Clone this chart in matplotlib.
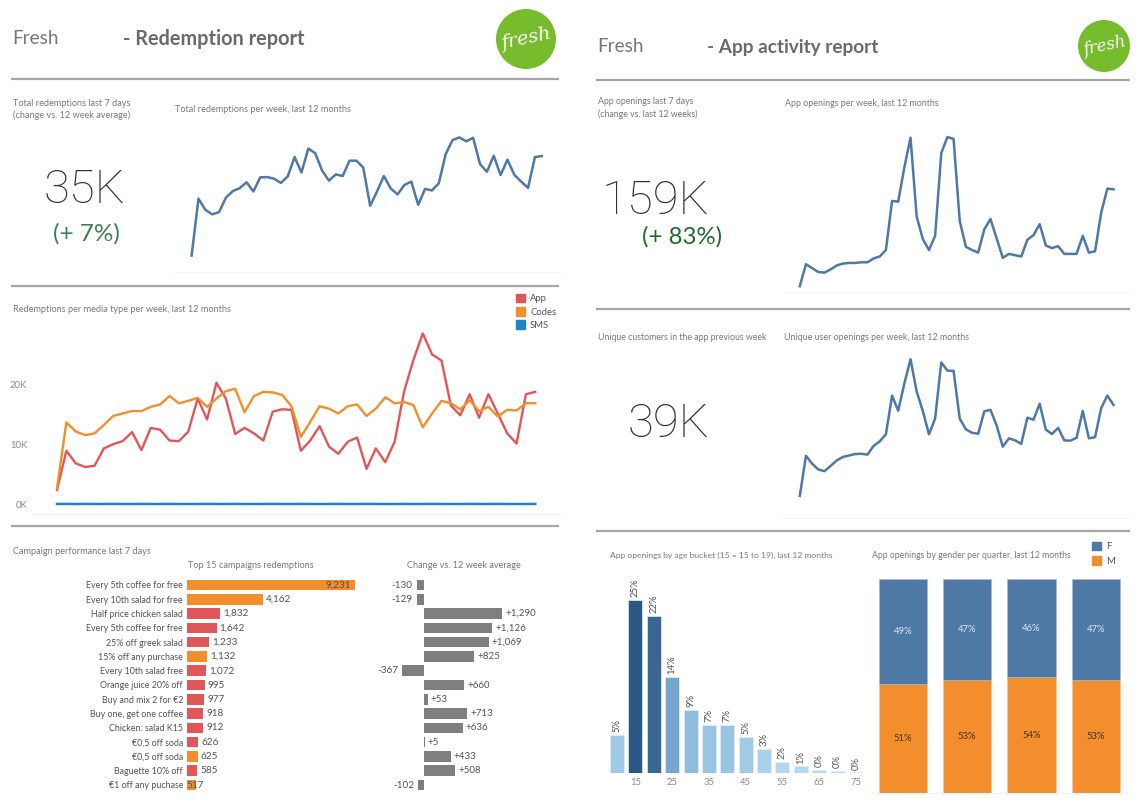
import matplotlib
matplotlib.use('Agg')
import matplotlib.pyplot as plt
from matplotlib.colors import LinearSegmentedColormap, Normalize
from matplotlib.patches import Circle, Patch

plt.rcParams['font.family'] = ['Lato', 'DejaVu Sans']

W, H = 1148, 808

# weekly series, thousands
weeks = list(range(52))
total_redemptions = [5.1, 22.5, 19.1, 17.7, 18.4, 22.8, 24.8, 25.7, 27.5, 24.7, 29.0, 29.1, 28.6,
                     27.3, 29.3, 35.2, 30.5, 37.8, 36.4, 31.1, 28.0, 29.9, 29.4, 34.1, 34.1, 32.0,
                     20.3, 24.7, 29.4, 25.6, 23.8, 26.7, 27.7, 20.6, 25.5, 25.0, 27.2, 36.1, 40.4,
                     41.2, 40.0, 41.1, 33.1, 30.7, 35.6, 29.7, 34.4, 29.8, 27.7, 25.8, 35.2, 35.5]
app = [2.4, 8.9, 6.8, 6.2, 6.4, 9.3, 10.0, 10.5, 12.0, 9.0, 12.7, 12.4, 10.6, 10.5, 12.1, 17.6,
       14.1, 20.2, 17.6, 11.7, 12.7, 11.8, 10.6, 15.4, 15.8, 15.7, 8.9, 10.6, 13.0, 9.6, 8.4,
       10.4, 11.1, 5.9, 9.3, 7.0, 10.4, 18.7, 24.0, 28.4, 24.9, 23.9, 16.4, 14.8, 18.3, 14.4,
       18.3, 15.1, 11.8, 10.1, 18.3, 18.7]
codes = [2.7, 13.6, 12.1, 11.5, 11.8, 13.2, 14.7, 15.1, 15.5, 15.5, 16.2, 16.6, 18.0, 16.8, 17.2,
         17.7, 16.2, 17.6, 18.8, 19.2, 15.3, 18.0, 18.7, 18.6, 18.2, 16.3, 11.2, 13.7, 16.3, 15.9,
         15.1, 16.3, 16.6, 14.7, 15.9, 17.8, 16.8, 17.0, 16.5, 12.8, 15.1, 17.2, 16.8, 15.8, 17.3,
         15.5, 16.2, 14.6, 15.7, 15.6, 16.8, 16.8]
sms = [0.05, 0.06, 0.05, 0.06, 0.05, 0.05, 0.06, 0.05, 0.05, 0.06, 0.05, 0.05, 0.06, 0.05, 0.05,
       0.05, 0.06, 0.05, 0.05, 0.06, 0.05, 0.05, 0.05, 0.06, 0.05, 0.05, 0.06, 0.05, 0.05, 0.05,
       0.06, 0.05, 0.05, 0.06, 0.05, 0.05, 0.05, 0.06, 0.05, 0.05, 0.06, 0.05, 0.05, 0.05, 0.06,
       0.05, 0.05, 0.06, 0.05, 0.05, 0.05, 0.06]
app_openings = [9, 43, 37, 31, 30, 35, 41, 44, 45, 45, 46, 46, 52, 55, 65, 141, 140, 193, 239, 117,
                82, 65, 87, 215, 240, 237, 110, 70, 65, 61, 97, 113, 83, 53, 59, 57, 55, 81, 88,
                105, 72, 68, 71, 59, 59, 59, 87, 61, 63, 123, 160, 159]
unique_openings = [7.7, 21.5, 18.8, 16.8, 16.2, 18.0, 19.9, 21.1, 21.6, 22.1, 22.2, 21.9, 24.9,
                   26.5, 28.9, 42.2, 37.0, 46.4, 54.7, 43.6, 36.9, 28.9, 34.3, 53.6, 50.8, 50.7,
                   34.3, 30.6, 29.4, 29.1, 36.8, 37.3, 31.9, 24.6, 27.5, 26.8, 25.6, 34.6, 33.9,
                   39.4, 30.5, 29.0, 31.1, 26.8, 26.7, 27.7, 36.9, 27.5, 27.9, 37.9, 42.2, 39.0]

# campaigns
campaigns = ['Every 5th coffee for free', 'Every 10th salad for free', 'Half price chicken salad',
             'Every 5th coffee for free', '25% off greek salad', '15% off any purchase',
             'Every 10th salad free', 'Orange juice 20% off', 'Buy and mix 2 for €2',
             'Buy one, get one coffee', 'Chicken: salad K15', '€0,5 off soda', '€0,5 off soda',
             'Baguette 10% off', '€1 off any puchase']
redemptions = [9231, 4162, 1832, 1642, 1233, 1132, 1072, 995, 977, 918, 912, 626, 625, 585, 517]
campaign_media = ['Codes', 'Codes', 'App', 'App', 'App', 'Codes', 'App', 'App', 'App', 'App',
                  'App', 'App', 'Codes', 'App', 'Codes']
change = [-130, -129, 1290, 1126, 1069, 825, -367, 660, 53, 713, 636, 5, 433, 508, -102]

# age buckets
age_buckets = [10, 15, 20, 25, 30, 35, 40, 45, 50, 55, 60, 65, 70, 75]
age_share = [5.5, 25, 22.7, 13.9, 9.1, 6.9, 6.9, 5.2, 3.4, 1.6, 0.9, 0.4, 0.25, 0.05]
age_labels = ['5%', '25%', '22%', '14%', '9%', '7%', '7%', '5%', '3%', '2%', '1%', '0%', '0%', '0%']

# gender per quarter
quarters = [1, 2, 3, 4]
female = [49, 47, 46, 47]
male = [51, 53, 54, 53]

BLUE = '#4e79a7'
RED = '#e15759'
ORANGE = '#f28e2b'
SMS_BLUE = '#1f83c9'
GRAY = '#7f7f7f'
TITLE = '#7a7a7a'
LABEL = '#555555'
RULE = '#a6a6a6'
FAINT = '#f4f4f4'

fig = plt.figure(figsize=(W / 100, H / 100), dpi=100, facecolor='white')

# overlay in pixel coordinates for headers, rules and big numbers
bg = fig.add_axes([0, 0, 1, 1])
bg.set_xlim(0, W)
bg.set_ylim(H, 0)
bg.axis('off')


def px_axes(x0, top, x1, bottom):
    ax = fig.add_axes([x0 / W, 1 - bottom / H, (x1 - x0) / W, (bottom - top) / H])
    ax.patch.set_alpha(0)
    for s in ['top', 'right', 'left']:
        ax.spines[s].set_visible(False)
    ax.spines['bottom'].set_color(FAINT)
    ax.tick_params(length=0)
    ax.set_xticks([])
    ax.set_yticks([])
    return ax


def lim_from_px(v0, p0, v1, p1, e0, e1):
    # data limits so that v0 lands on pixel p0 and v1 on pixel p1
    k = (v1 - v0) / (p1 - p0)
    return v0 + (e0 - p0) * k, v0 + (e1 - p0) * k


def small(x, y, s, size=6.6, color=TITLE, **kw):
    bg.text(x, y, s, fontsize=size, color=color, va='center', **kw)


def logo(cx, cy, r, size):
    bg.add_patch(Circle((cx, cy), r, color='#76bc2c', lw=0))
    bg.text(cx, cy, 'fresh', color='white', fontsize=size, style='italic', family='DejaVu Serif',
            ha='center', va='center', rotation=12)


def weekly_line(ax, values, x0_px, x1_px, ax_x0, ax_x1):
    ax.plot(weeks, values, color=BLUE, lw=1.8, solid_joinstyle='round')
    ax.set_xlim(*lim_from_px(0, x0_px, 51, x1_px, ax_x0, ax_x1))


# headers
bg.text(12, 39, 'Fresh', fontsize=13.6, color='#777777', va='center')
bg.text(123, 39, '- Redemption report', fontsize=14.3, color='#6a6a6a', va='center', weight='bold')
bg.text(597, 47, 'Fresh', fontsize=13.6, color='#777777', va='center')
bg.text(707, 47, '- App activity report', fontsize=13.7, color='#6a6a6a', va='center', weight='bold')
logo(526, 39, 30, 14)
logo(1104, 46, 26, 12)

for x0, x1, y in [(11, 559, 79), (11, 559, 286), (11, 559, 526),
                  (596, 1130, 80), (596, 1130, 309), (596, 1130, 531)]:
    bg.plot([x0, x1], [y, y], color=RULE, lw=1.6, solid_capstyle='butt')

# panel titles
small(13, 103, 'Total redemptions last 7 days')
small(13, 115, '(change vs. 12 week average)')
small(175, 109, 'Total redemptions per week, last 12 months')
small(13, 310, 'Redemptions per media type per week, last 12 months')
small(13, 551, 'Campaign performance last 7 days')
small(188, 566, 'Top 15 campaigns redemptions')
small(407, 566, 'Change vs. 12 week average')
small(598, 102, 'App openings last 7 days', 6.35)
small(598, 114, '(change vs. last 12 weeks)', 6.35)
small(785, 103, 'App openings per week, last 12 months', 6.4)
small(598, 337, 'Unique customers in the app previous week', 6.3)
small(784, 337, 'Unique user openings per week, last 12 months', 6.4)
small(610, 555, 'App openings by age bucket (15 = 15 to 19), last 12 months', 6.1)
small(872, 555, 'App openings by gender per quarter, last 12 months', 6.2)

# big numbers
big = dict(color='#333333', ha='center', va='center', family='Roboto', weight='light')
bg.text(85, 190, '35K', fontsize=34, **big)
bg.text(655, 201, '159K', fontsize=34, **big)
bg.text(668, 424, '39K', fontsize=34, **big)
bg.text(86, 234, '(+ 7%)', fontsize=17.5, color='#3f7f4f', ha='center', va='center')
bg.text(682, 237, '(+ 83%)', fontsize=17.3, color='#1f6b2a', ha='center', va='center')

# total redemptions
ax = px_axes(173.5, 125, 560, 272.3)
weekly_line(ax, total_redemptions, 191.6, 541.8, 173.5, 560)
ax.set_ylim(0, 45)

# media type
ax = px_axes(32, 320, 560, 514)
ax.plot(weeks, app, color=RED, lw=1.7)
ax.plot(weeks, codes, color=ORANGE, lw=1.7)
ax.plot(weeks, sms, color=SMS_BLUE, lw=1.8)
ax.set_xlim(*lim_from_px(0, 57, 51, 535.3, 32, 560))
ax.set_ylim(*lim_from_px(0, 504.3, 20, 384, 514, 320))
ax.set_yticks([0, 10, 20], ['0K', '10K', '20K'], fontsize=6.8, color='#8a8a8a')
ax.tick_params(axis='y', pad=3.5)
fig.legend(handles=[Patch(color=RED, label='App'), Patch(color=ORANGE, label='Codes'),
                    Patch(color=SMS_BLUE, label='SMS')],
           loc='upper left', bbox_to_anchor=(514 / W, 1 - 292 / H), frameon=False, fontsize=6.8,
           labelcolor=LABEL, handlelength=1, handleheight=1, handletextpad=0.5, labelspacing=0.4,
           borderpad=0.2, borderaxespad=0)

# campaign redemptions
media_colors = {'App': RED, 'Codes': ORANGE}
ax = px_axes(186.5, 575, 375, 795)
rows = list(range(len(campaigns)))
ax.barh(rows, redemptions, height=0.74, color=[media_colors[m] for m in campaign_media])
ax.set_xlim(0, 188.5 / 0.01829)
ax.set_ylim(*lim_from_px(0, 585, 14, 785, 795, 575))
ax.spines['bottom'].set_visible(False)
ax.set_yticks(rows, campaigns, fontsize=6.4, color=LABEL)
ax.tick_params(axis='y', pad=2.5)
for i, v in enumerate(redemptions):
    if i == 0:
        ax.annotate(f'{v:,}', (v, i), xytext=(-3, 0), textcoords='offset points', ha='right',
                    va='center', fontsize=7.2, color='#5a4a3a')
    elif i == len(redemptions) - 1:
        ax.annotate(f'{v:,}', (0, i), ha='left', va='center', fontsize=7.2, color=LABEL)
    else:
        ax.annotate(f'{v:,}', (v, i), xytext=(2.2, 0), textcoords='offset points', va='center',
                    fontsize=7.2, color=LABEL)

# change vs average
ax = px_axes(385, 575, 560, 795)
ax.barh(rows, change, height=0.74, color=GRAY)
ax.set_xlim(-39.4 / 0.0603, 135.6 / 0.0603)
ax.set_ylim(*lim_from_px(0, 585, 14, 785, 795, 575))
ax.spines['bottom'].set_visible(False)
for i, v in enumerate(change):
    if v < 0:
        ax.annotate(f'{v:,}', (v, i), xytext=(-3, 0), textcoords='offset points', ha='right',
                    va='center', fontsize=7.2, color=LABEL)
    else:
        ax.annotate(f'+{v:,}', (v, i), xytext=(2.2, 0), textcoords='offset points', va='center',
                    fontsize=7, color=LABEL)

# app openings
ax = px_axes(783, 125, 1130, 292)
weekly_line(ax, app_openings, 799.8, 1113.5, 783, 1130)
ax.set_ylim(0, 258.6)

# unique openings
ax = px_axes(781, 345, 1130, 518.3)
weekly_line(ax, unique_openings, 799.8, 1113.5, 781, 1130)
ax.set_ylim(0, 59.6)

# age buckets
ramp = LinearSegmentedColormap.from_list('blues', ['#b9ddf1', '#7fb0d6', '#2a5783'])
norm = Normalize(0, 25)
ax = px_axes(605, 570, 868, 772.7)
ax.bar(age_buckets, age_share, width=3.8, color=[ramp(norm(v)) for v in age_share],
       edgecolor='#e4eef6', linewidth=0.5)
ax.set_xlim(*lim_from_px(10, 617, 75, 856, 605, 868))
ax.set_ylim(0, 202.7 / 6.9)
ax.spines['bottom'].set_visible(False)
ax.set_xticks(age_buckets[1::2], [str(a) for a in age_buckets[1::2]], fontsize=6.8, color='#8a8a8a')
ax.tick_params(axis='x', pad=4)
for a, v, s in zip(age_buckets, age_share, age_labels):
    ax.annotate(s, (a, v), xytext=(0, 2), textcoords='offset points', rotation=90, ha='center',
                va='bottom', fontsize=6.8, color=LABEL)

# gender per quarter
ax = px_axes(870.7, 579.3, 1128.6, 792.7)
ax.bar(quarters, male, width=0.75, color=ORANGE, edgecolor='#f8c48c', linewidth=0.4)
ax.bar(quarters, female, width=0.75, bottom=male, color=BLUE, edgecolor='#a8bdd3', linewidth=0.4)
ax.set_xlim(*lim_from_px(1, 902.8, 4, 1095.7, 870.7, 1128.6))
ax.set_ylim(0, 100)
for q, m, f in zip(quarters, male, female):
    ax.text(q, m / 2, f'{m}%', ha='center', va='center', fontsize=6.8, color='#4a3015')
    ax.text(q, m + f / 2, f'{f}%', ha='center', va='center', fontsize=6.8, color='#dce6f0')
fig.legend(handles=[Patch(color=BLUE, label='F'), Patch(color=ORANGE, label='M')],
           loc='upper left', bbox_to_anchor=(1090 / W, 1 - 540 / H), frameon=False, fontsize=6.8,
           labelcolor=LABEL, handlelength=1, handleheight=1, handletextpad=0.5, labelspacing=0.5,
           borderpad=0.2, borderaxespad=0)

fig.savefig('out.png', dpi=100)
